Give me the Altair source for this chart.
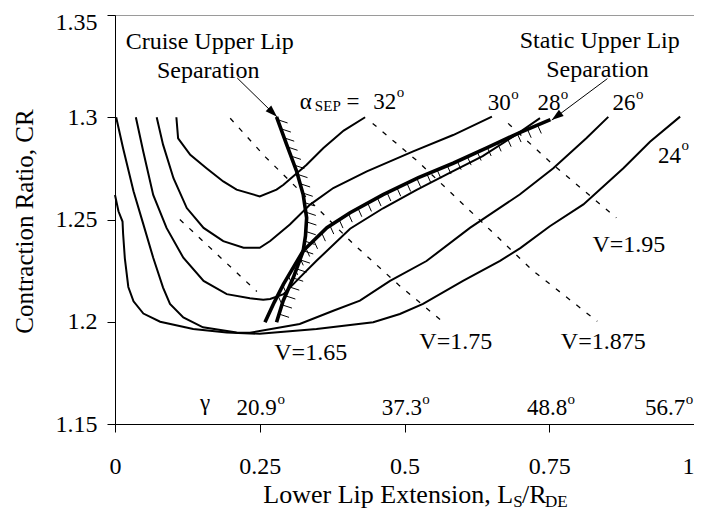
import altair as alt
import numpy as np
import pandas as pd

FONT = "Liberation Serif, Times New Roman, Times, serif"

# ---------------- constant separation-angle curves (alpha_SEP) ----------------
a24_x = [0.000, 0.006, 0.013, 0.014, 0.017, 0.023, 0.032, 0.049, 0.078, 0.135, 0.193, 0.250,
         0.348, 0.446, 0.492, 0.532, 0.601, 0.665, 0.700, 0.751, 0.809, 0.878, 0.924, 0.976]
a24_y = [1.262, 1.254, 1.249, 1.243, 1.231, 1.217, 1.210, 1.204, 1.200, 1.1965, 1.1948, 1.1941,
         1.1965, 1.1998, 1.2038, 1.2087, 1.2200, 1.2298, 1.2360, 1.2467, 1.2574, 1.2751, 1.2880, 1.3003]

a26_x = [0.002, 0.014, 0.032, 0.049, 0.066, 0.083, 0.095, 0.118, 0.152, 0.210, 0.233, 0.319,
         0.377, 0.423, 0.475, 0.538, 0.613, 0.699, 0.757, 0.814, 0.852]
a26_y = [1.300, 1.2848, 1.2638, 1.2476, 1.2313, 1.2167, 1.2087, 1.2021, 1.1973, 1.1948, 1.1946, 1.1989,
         1.2054, 1.2103, 1.2200, 1.2297, 1.2459, 1.2622, 1.2751, 1.2897, 1.3002]

a28_x = [0.036, 0.049, 0.066, 0.089, 0.118, 0.153, 0.193, 0.233, 0.256, 0.268, 0.291, 0.319,
         0.348, 0.406, 0.463, 0.521, 0.578, 0.635, 0.688, 0.734]
a28_y = [1.300, 1.283, 1.262, 1.2459, 1.2313, 1.2200, 1.2135, 1.2115, 1.2108, 1.2111, 1.2135, 1.2216,
         1.2298, 1.2455, 1.2555, 1.2645, 1.2728, 1.2810, 1.2906, 1.2996]

a30_x = [0.072, 0.083, 0.101, 0.124, 0.153, 0.187, 0.222, 0.250, 0.268, 0.302, 0.337, 0.377,
         0.435, 0.515, 0.584, 0.651]
a30_y = [1.300, 1.2866, 1.2702, 1.2556, 1.2459, 1.2394, 1.2362, 1.2362, 1.2395, 1.2476, 1.2573, 1.2654,
         1.2735, 1.2833, 1.2913, 1.3003]

a32_x = [0.106, 0.109, 0.130, 0.158, 0.187, 0.210, 0.250, 0.279, 0.291, 0.331, 0.360, 0.395, 0.432]
a32_y = [1.300, 1.2897, 1.2816, 1.2751, 1.2686, 1.2646, 1.2613, 1.2646, 1.2670, 1.2768, 1.2850, 1.2935, 1.300]

# ---------------- constant V lines (dashed) ----------------
v165_x = [0.112, 0.245]
v165_y = [1.250, 1.2148]
v175_x = [0.199, 0.260, 0.330, 0.410, 0.490, 0.567]
v175_y = [1.2995, 1.2805, 1.2610, 1.2385, 1.2180, 1.1998]
v1875_x = [0.445, 0.523, 0.626, 0.722, 0.833]
v1875_y = [1.297, 1.2784, 1.2508, 1.2249, 1.2002]
v195_x = [0.679, 0.757, 0.866]
v195_y = [1.297, 1.2767, 1.2508]

# ---------------- separation boundaries (thick) ----------------
cruise_x = [0.279, 0.2965, 0.3138, 0.325, 0.331, 0.329, 0.325, 0.308, 0.2905, 0.279]
cruise_y = [1.3002, 1.2866, 1.2735, 1.2622, 1.2508, 1.2420, 1.2346, 1.2216, 1.2103, 1.1998]
static_x = [0.259, 0.275, 0.291, 0.325, 0.366, 0.406, 0.463, 0.524, 0.584, 0.642, 0.699, 0.752]
static_y = [1.1997, 1.2095, 1.2184, 1.2347, 1.2460, 1.2533, 1.2622, 1.2705, 1.2775, 1.2850, 1.2925, 1.2988]

# ---------------- arrows (start -> tip) ----------------
arrow_x = [0.2111, 0.8505]
arrow_y = [1.3192, 1.3189]
arrow_x2 = [0.2797, 0.7543]
arrow_y2 = [1.3002, 1.2986]
arrow_angle = [135, 233]

# ---------------- labels ----------------
lab_c_text = ["Cruise Upper Lip", "Separation", "Static Upper Lip", "Separation",
              "V=1.65", "V=1.75", "V=1.875", "V=1.95"]
lab_c_x = [0.1635, 0.161, 0.8372, 0.8333, 0.338, 0.5886, 0.8433, 0.8876]
lab_c_y = [1.3335, 1.3192, 1.3338, 1.3195, 1.1812, 1.1868, 1.1868, 1.2341]

lab_l_text = ["\u03b1", "=", "32", "30", "28", "26", "24",
              "\u03b3", "20.9", "37.3", "48.8", "56.7"]
lab_l_x = [0.3193, 0.400, 0.4459, 0.6439, 0.7296, 0.8591, 0.9379,
           0.1468, 0.210, 0.4606, 0.7116, 0.9152]
lab_l_y = [1.3038, 1.3038, 1.3038, 1.3036, 1.3036, 1.3036, 1.2775,
           1.1568, 1.1543, 1.1543, 1.1543, 1.1543]

lab_s_text = ["SEP", "o", "o", "o", "o", "o", "o", "o", "o", "o"]
lab_s_x = [0.3452, 0.4865, 0.6844, 0.7700, 0.8997, 0.9784, 0.2805, 0.5308, 0.7816, 0.9857]
lab_s_y = [1.3030, 1.3100, 1.3090, 1.3090, 1.3090, 1.2840, 1.1597, 1.1597, 1.1597, 1.1597]


def frame(name, xs, ys):
    return pd.DataFrame({"name": name, "i": range(len(xs)), "x": xs, "y": ys})


def along(xs, ys, step, start, stop_margin):
    xs = np.asarray(xs, dtype=float)
    ys = np.asarray(ys, dtype=float)
    px = xs * 579.0
    py = ys * 2045.0
    s = np.concatenate([[0.0], np.cumsum(np.hypot(np.diff(px), np.diff(py)))])
    t = np.arange(start, s[-1] - stop_margin, step)
    return pd.DataFrame({"x": np.interp(t, s, xs), "y": np.interp(t, s, ys)})


alpha_df = pd.concat([frame("24", a24_x, a24_y), frame("26", a26_x, a26_y),
                      frame("28", a28_x, a28_y), frame("30", a30_x, a30_y),
                      frame("32", a32_x, a32_y)])
v_df = pd.concat([frame("1.65", v165_x, v165_y), frame("1.75", v175_x, v175_y),
                  frame("1.875", v1875_x, v1875_y), frame("1.95", v195_x, v195_y)])
sep_df = pd.concat([frame("cruise", cruise_x, cruise_y), frame("static", static_x, static_y)])
cruise_hatch = along(cruise_x, cruise_y, 9.7, 3, 0)
static_hatch = along(static_x, static_y, 11.0, 30, 4)
arrow_df = pd.DataFrame({"x": arrow_x, "y": arrow_y, "x2": arrow_x2, "y2": arrow_y2, "a": arrow_angle})
lab_c = pd.DataFrame({"t": lab_c_text, "x": lab_c_x, "y": lab_c_y})
lab_l = pd.DataFrame({"t": lab_l_text, "x": lab_l_x, "y": lab_l_y})
lab_s = pd.DataFrame({"t": lab_s_text, "x": lab_s_x, "y": lab_s_y})

xsc = alt.Scale(domain=[0, 1], nice=False, zero=False)
ysc = alt.Scale(domain=[1.15, 1.35], nice=False, zero=False)

x_axis = alt.Axis(values=[0, 0.25, 0.5, 0.75, 1], labelExpr="format(datum.value, '~g')",
                  title=None, grid=False,
                  tickSize=8, labelPadding=22, labelFontSize=24, labelFont=FONT,
                  labelColor="black", domainColor="black", tickColor="black",
                  labelFlush=False, labelOverlap=False,
                  labelAlign={"condition": {"test": "datum.value == 1", "value": "right"},
                              "value": "center"})
y_axis = alt.Axis(values=[1.15, 1.2, 1.25, 1.3, 1.35], labelExpr="format(datum.value, '~g')",
                  title=None, grid=False,
                  tickSize=8, labelPadding=10, labelFontSize=24, labelFont=FONT,
                  labelColor="black", domainColor="black", tickColor="black",
                  labelOverlap=False,
                  labelOffset={"condition": {"test": "datum.value > 1.34", "value": 7},
                               "value": 0})


def X(field="x"):
    return alt.X(f"{field}:Q", scale=xsc, axis=x_axis)


def Y(field="y"):
    return alt.Y(f"{field}:Q", scale=ysc, axis=y_axis)


alpha_lines = alt.Chart(alpha_df).mark_line(color="black", strokeWidth=2).encode(
    x=X(), y=Y(), detail="name:N", order="i:Q")

v_lines = alt.Chart(v_df).mark_line(color="black", strokeWidth=1.3, strokeDash=[5, 8]).encode(
    x=X(), y=Y(), detail="name:N", order="i:Q")

sep_lines = alt.Chart(sep_df).mark_line(color="black", strokeWidth=3.6).encode(
    x=X(), y=Y(), detail="name:N", order="i:Q")

cruise_h = alt.Chart(cruise_hatch).mark_point(
    shape="M0,0L1,0.33", size=400, filled=False, color="black", strokeWidth=1, opacity=1
).encode(x=X(), y=Y())

static_h = alt.Chart(static_hatch).mark_point(
    shape="M0,0L0.45,1", size=280, filled=False, color="black", strokeWidth=1, opacity=1
).encode(x=X(), y=Y())

arrow_rules = alt.Chart(arrow_df).mark_rule(color="black", strokeWidth=1).encode(
    x=X(), y=Y(), x2="x2:Q", y2="y2:Q")

arrow_heads = alt.Chart(arrow_df).mark_point(
    shape="M0,0L0.33,1L-0.33,1Z", size=576, filled=True, color="black", opacity=1
).encode(x=X("x2"), y=Y("y2"), angle=alt.Angle("a:Q", scale=None))

txt_c = alt.Chart(lab_c).mark_text(font=FONT, fontSize=24, align="center",
                                   baseline="alphabetic", color="black").encode(
    x=X(), y=Y(), text="t:N")
txt_l = alt.Chart(lab_l).mark_text(font=FONT, fontSize=23, align="left",
                                   baseline="alphabetic", color="black").encode(
    x=X(), y=Y(), text="t:N")
txt_s = alt.Chart(lab_s).mark_text(font=FONT, fontSize=15, align="left",
                                   baseline="alphabetic", color="black").encode(
    x=X(), y=Y(), text="t:N")


def piece(text, px, py, size, angle=0, align="left"):
    return alt.Chart(pd.DataFrame({"t": [text]})).mark_text(
        font=FONT, fontSize=size, align=align, baseline="alphabetic", angle=angle, color="black"
    ).encode(x=alt.value(px), y=alt.value(py), text="t:N")


y_title = piece("Contraction Ratio, CR", -82, 206.5, 25, angle=270, align="center")
x_t1 = piece("Lower Lip Extension, L", 148.3, 488, 26)
x_t2 = piece("S", 398.3, 492, 17)
x_t3 = piece("/R", 407, 488, 26)
x_t4 = piece("DE", 430, 492, 17)

chart = alt.layer(
    alpha_lines, v_lines, sep_lines, cruise_h, static_h, arrow_rules, arrow_heads,
    txt_c, txt_l, txt_s, y_title, x_t1, x_t2, x_t3, x_t4
).properties(
    width=579, height=409,
    autosize=alt.AutoSizeParams(type="none"),
    padding={"left": 107, "top": 7, "right": 0, "bottom": 86},
    background="white",
).configure_view(stroke="#9a9a9a", strokeWidth=1)

chart.save("out.html", embed_options={"renderer": "svg", "actions": False})
